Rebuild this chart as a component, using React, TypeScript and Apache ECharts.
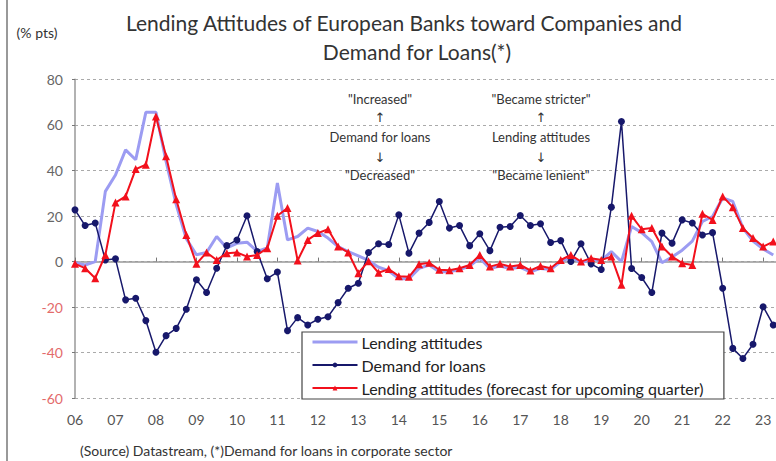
import React, { useEffect, useRef } from "react";
import * as echarts from "echarts";

const FONT = "Lato, 'Open Sans', 'DejaVu Sans', sans-serif";

const years = ["06", "07", "08", "09", "10", "11", "12", "13", "14", "15", "16", "17", "18", "19", "20", "21", "22", "23"];

// Lending attitudes (net % "became stricter")
const lendingAttitudes = [
  -0.5, -1.5, 0, 30.8, 38, 49, 44.7, 65.5, 65.5, 44,
  25, 10, 3, 4, 11, 6, 8, 8.5, 4.5, 6,
  34.5, 9.5, 11, 14.7, 13.2, 10.3, 6.6, 4.4, 2.5, 0.5,
  -2.5, -4, -7.5, -7.5, -3, -1.5, -4.5, -4.5, -3.5, -2,
  1.5, -3, -2, -3, -2.5, -4.5, -3, -3.5, 0, 2,
  -0.5, 1, 0.5, 4.4, 0, 15.4, 12.7, 8.8, -0.5, 2,
  5, 9, 17.6, 19.8, 27.9, 26.4, 14.7, 9, 5.5, 2.9,
];

// Demand for loans
const demandForLoans = [
  22.7, 15.8, 16.9, 0.7, 1.2, -16.8, -16.1, -25.9, -39.8, -32.5,
  -29.3, -20.9, -8.0, -13.6, -2.9, 7, 9.5, 20.1, 4.4, -7.5,
  -4.6, -30.3, -24.6, -27.8, -25.3, -24.2, -18, -11.7, -9.5, 4,
  7.8, 7.5, 20.5, 3.7, 12.5, 17.2, 26.4, 14.7, 15.8, 7,
  12.2, 4.8, 15.1, 15.4, 20.2, 15.8, 16.6, 8.4, 9.2, 0,
  7.8, -1, -3.5, 23.9, 61.5, -3, -7, -13.6, 12.5, 8.1,
  18.3, 16.9, 11.7, 12.7, -11.7, -38.1, -42.5, -36.3, -19.8, -27.8,
];

// Lending attitudes (forecast for upcoming quarter)
const lendingForecast = [
  -1, -2.9, -7.3, 2.9, 25.9, 28.6, 40.6, 42.5, 63.7, 46.2,
  27.4, 11.7, -1, 4, 0.7, 3.7, 4, 2.2, 2.9, 5.9,
  20.1, 23.5, 0.5, 9.5, 12.5, 14.2, 6.6, 4, -5.1, 0.2,
  -4.9, -3.3, -6.4, -6.7, -1.2, -0.5, -3.6, -3.8, -2.9, -1.5,
  2.9, -2.2, -1, -2.2, -1.5, -3.9, -1.9, -2.9, 0.7, 2.9,
  0, 1.5, 0.7, 2.2, -10.2, 20.1, 14.2, 14.7, 6.6, 2.2,
  -0.7, -1.5, 21, 18.3, 28.6, 23.9, 14.7, 10.3, 6.6, 8.8,
];

const seriesNames = [
  "Lending attitudes",
  "Demand for loans",
  "Lending attitudes (forecast for upcoming quarter)",
];

const titleLines = [
  "Lending Attitudes of European Banks toward Companies and",
  "Demand for Loans(*)",
];

const noteDemand = ['"Increased"', "↑", "Demand for loans", "↓", '"Decreased"'];
const noteLending = ['"Became stricter"', "↑", "Lending attitudes", "↓", '"Became lenient"'];

const sourceText = "(Source) Datastream, (*)Demand for loans in corporate sector";

const categories: string[] = [];
years.forEach((y) => {
  categories.push(y, "", "", "");
});

const COLORS = { lending: "#9c9cf2", demand: "#17186b", forecast: "#f2101c" };

export default function App() {
  const ref = useRef<HTMLDivElement>(null);

  useEffect(() => {
    if (!ref.current) return;
    const chart = echarts.init(ref.current, undefined, { renderer: "svg" });

    const noteYs = [99, 117, 137, 157, 175];
    const noteGraphics: any[] = [];
    const addNotes = (list: string[], x: number) => {
      list.forEach((t, i) => {
        const isArrow = t === "↑" || t === "↓";
        noteGraphics.push({
          type: "text",
          x,
          y: noteYs[i],
          z: 10,
          style: {
            text: t,
            fill: "#333",
            font: isArrow ? `13px 'DejaVu Sans', sans-serif` : `13px ${FONT}`,
            textAlign: "center",
            textVerticalAlign: "middle",
          },
        });
      });
    };
    addNotes(noteDemand, 380);
    addNotes(noteLending, 541);

    const option: any = {
      animation: false,
      backgroundColor: "#ffffff",
      textStyle: { fontFamily: FONT },
      grid: { left: 75, top: 79.3, width: 718.5, height: 319, containLabel: false, outerBoundsMode: "none" },
      xAxis: [
        {
          type: "category",
          data: categories,
          boundaryGap: false,
          position: "bottom",
          axisLine: { show: false, onZero: false },
          axisTick: { show: false },
          axisLabel: { interval: 3, margin: 14, color: "#555", fontSize: 14, fontFamily: FONT },
          splitLine: { show: false },
        },
        {
          type: "category",
          data: categories,
          boundaryGap: false,
          position: "bottom",
          axisLine: { show: true, onZero: true, lineStyle: { color: "#999", width: 1.5 } },
          axisTick: { show: true, inside: true, interval: 3, length: 4, lineStyle: { color: "#777" } },
          axisLabel: { show: false },
          splitLine: { show: false },
        },
      ],
      yAxis: {
        type: "value",
        min: -60,
        max: 80,
        interval: 20,
        axisLine: { show: true, lineStyle: { color: "#999", width: 1.5 } },
        axisTick: { show: true, length: 3, lineStyle: { color: "#777" } },
        axisLabel: {
          margin: 12,
          fontSize: 14,
          fontFamily: FONT,
          color: (v: any) => (Number(v) < 0 ? "#e36b6b" : "#666"),
        },
        splitLine: { show: true, lineStyle: { color: "#aaa", type: [3, 3], width: 1 } },
      },
      legend: {
        orient: "vertical",
        left: 302,
        top: 332,
        itemWidth: 45,
        itemHeight: 6,
        itemGap: 7,
        padding: [2, 20, 3, 9],
        borderColor: "#444",
        borderWidth: 1.2,
        backgroundColor: "#fff",
        textStyle: { fontSize: 16, color: "#222", fontFamily: FONT, padding: [0, 0, 0, -1] },
        data: [
          {
            name: seriesNames[0],
            lineStyle: { color: COLORS.lending, width: 3 },
            itemStyle: { color: "rgba(0,0,0,0)", borderWidth: 0, opacity: 0 },
          },
          { name: seriesNames[1] },
          { name: seriesNames[2] },
        ],
      },
      series: [
        {
          name: seriesNames[0],
          type: "line",
          data: lendingAttitudes,
          symbol: "none",
          lineStyle: { color: COLORS.lending, width: 3 },
          itemStyle: { color: COLORS.lending },
          z: 2,
        },
        {
          name: seriesNames[1],
          type: "line",
          data: demandForLoans,
          symbol: "circle",
          symbolSize: 7,
          showAllSymbol: true,
          lineStyle: { color: COLORS.demand, width: 1.5 },
          itemStyle: { color: COLORS.demand },
          z: 3,
        },
        {
          name: seriesNames[2],
          type: "line",
          data: lendingForecast,
          symbol: "triangle",
          symbolSize: 8,
          showAllSymbol: true,
          lineStyle: { color: COLORS.forecast, width: 2 },
          itemStyle: { color: COLORS.forecast },
          z: 4,
        },
      ],
      graphic: [
        { type: "line", shape: { x1: 7, y1: 0, x2: 7, y2: 461 }, style: { stroke: "#777", lineWidth: 1.5 } },
        {
          type: "text",
          x: 37,
          y: 32,
          style: { text: "(% pts)", fill: "#333", font: `14px ${FONT}`, textAlign: "center", textVerticalAlign: "middle" },
        },
        {
          type: "text",
          x: 404,
          y: 22,
          style: { text: titleLines[0], fill: "#333", font: `21px ${FONT}`, textAlign: "center", textVerticalAlign: "middle" },
        },
        {
          type: "text",
          x: 417,
          y: 51,
          style: { text: titleLines[1], fill: "#333", font: `21px ${FONT}`, textAlign: "center", textVerticalAlign: "middle" },
        },
        ...noteGraphics,
        {
          type: "text",
          x: 80,
          y: 450,
          style: { text: sourceText, fill: "#333", font: `14px ${FONT}`, textAlign: "left", textVerticalAlign: "middle" },
        },
      ],
    };

    chart.setOption(option);
    return () => chart.dispose();
  }, []);

  return (
    <div
      ref={ref}
      style={{ position: "fixed", left: 0, top: 0, width: 776, height: 461, background: "#fff" }}
    />
  );
}
